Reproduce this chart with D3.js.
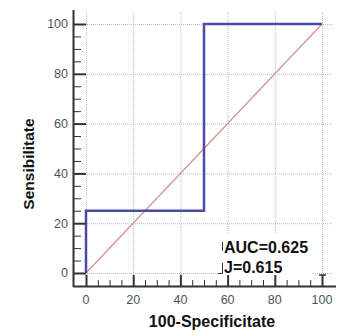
<!DOCTYPE html>
<html>
<head>
<meta charset="utf-8">
<script src="https://cdn.jsdelivr.net/npm/d3@7"></script>
<style>
  body { margin: 0; background: #fff; }
  svg { display: block; font-family: "Liberation Sans", Arial, sans-serif; }
</style>
</head>
<body>
<div id="chart"></div>
<script>
// data
const rocX = [0, 0, 50, 50, 100];
const rocY = [0, 25, 25, 100, 100];
const diagX = [0, 100];
const diagY = [0, 100];
const majorTicks = [0, 20, 40, 60, 80, 100];
const minorTicks = d3.range(0, 101, 5);
const statLines = ["AUC=0.625", "J=0.615"];

const width = 338, height = 336;
const svg = d3.select("#chart").append("svg")
    .attr("width", width).attr("height", height);

const x = d3.scaleLinear().domain([0, 100]).range([86, 322]);
const y = d3.scaleLinear().domain([0, 100]).range([273, 24]);
const axisX = 73, axisY = 286;

// grid
const grid = svg.append("g").attr("stroke", "#bdbdbd").attr("stroke-width", 1)
    .attr("stroke-dasharray", "1,1");
grid.selectAll(".gv").data(majorTicks).join("line")
    .attr("x1", d => x(d) + 0.5).attr("x2", d => x(d) + 0.5)
    .attr("y1", 12).attr("y2", axisY);
grid.selectAll(".gh").data(majorTicks).join("line")
    .attr("y1", d => y(d) + 0.5).attr("y2", d => y(d) + 0.5)
    .attr("x1", axisX).attr("x2", 333);

// diagonal
svg.append("path")
    .attr("d", d3.line().x((d, i) => x(diagX[i])).y((d, i) => y(diagY[i]))(diagX))
    .attr("fill", "none").attr("stroke", "#d49090").attr("stroke-width", 1.2);

// ROC curve
svg.append("path")
    .attr("d", d3.line().x((d, i) => x(rocX[i])).y((d, i) => y(rocY[i]))(rocX))
    .attr("fill", "none").attr("stroke", "#4b4ba6").attr("stroke-width", 2.5);

// text box
svg.append("rect").attr("x", 220).attr("y", 234).attr("width", 92).attr("height", 44)
    .attr("fill", "#fff");
svg.selectAll(".stat").data(statLines).join("text")
    .attr("x", 224).attr("y", (d, i) => 253 + i * 20)
    .attr("font-size", 16).attr("font-weight", "bold").attr("fill", "#111")
    .text(d => d);
svg.append("path").attr("d", "M222.5,242V251M222.5,263V273.5H218")
    .attr("stroke", "#333").attr("fill", "none").attr("stroke-width", 1);

// axes
const ax = svg.append("g").attr("stroke", "#333");
ax.append("line").attr("x1", axisX + 0.5).attr("x2", axisX + 0.5)
    .attr("y1", 10).attr("y2", axisY + 1).attr("stroke-width", 2);
ax.append("line").attr("x1", axisX).attr("x2", 336)
    .attr("y1", axisY + 0.5).attr("y2", axisY + 0.5).attr("stroke-width", 2);

ax.selectAll(".ty").data(minorTicks).join("line")
    .attr("x1", axisX).attr("x2", d => d % 20 === 0 ? axisX + 13 : axisX + 8)
    .attr("y1", d => y(d) + 0.5).attr("y2", d => y(d) + 0.5)
    .attr("stroke-width", d => d % 20 === 0 ? 2 : 1);
ax.selectAll(".tx").data(minorTicks).join("line")
    .attr("x1", d => x(d) + 0.5).attr("x2", d => x(d) + 0.5)
    .attr("y1", axisY).attr("y2", d => d % 20 === 0 ? axisY - 11 : axisY - 6)
    .attr("stroke-width", d => d % 20 === 0 ? 2 : 1);
ax.append("line").attr("x1", x(100) - 3).attr("x2", x(100) + 4)
    .attr("y1", axisY - 11).attr("y2", axisY - 11).attr("stroke-width", 1.5);

svg.selectAll(".ly").data(majorTicks).join("text")
    .attr("x", 68).attr("y", d => y(d)).attr("dy", "0.35em")
    .attr("text-anchor", "end").attr("font-size", 12.5).attr("fill", "#4d5260")
    .text(d => d);
svg.selectAll(".lx").data(majorTicks).join("text")
    .attr("x", d => x(d)).attr("y", 304)
    .attr("text-anchor", "middle").attr("font-size", 12.5).attr("fill", "#4d5260")
    .text(d => d);

// axis titles
svg.append("text").attr("x", 212).attr("y", 327).attr("text-anchor", "middle")
    .attr("font-size", 16).attr("font-weight", "bold").attr("fill", "#111")
    .text("100-Specificitate");
svg.append("text").attr("transform", "translate(34,164) rotate(-90)")
    .attr("text-anchor", "middle")
    .attr("font-size", 15.5).attr("font-weight", "bold").attr("fill", "#111")
    .text("Sensibilitate");
</script>
</body>
</html>
